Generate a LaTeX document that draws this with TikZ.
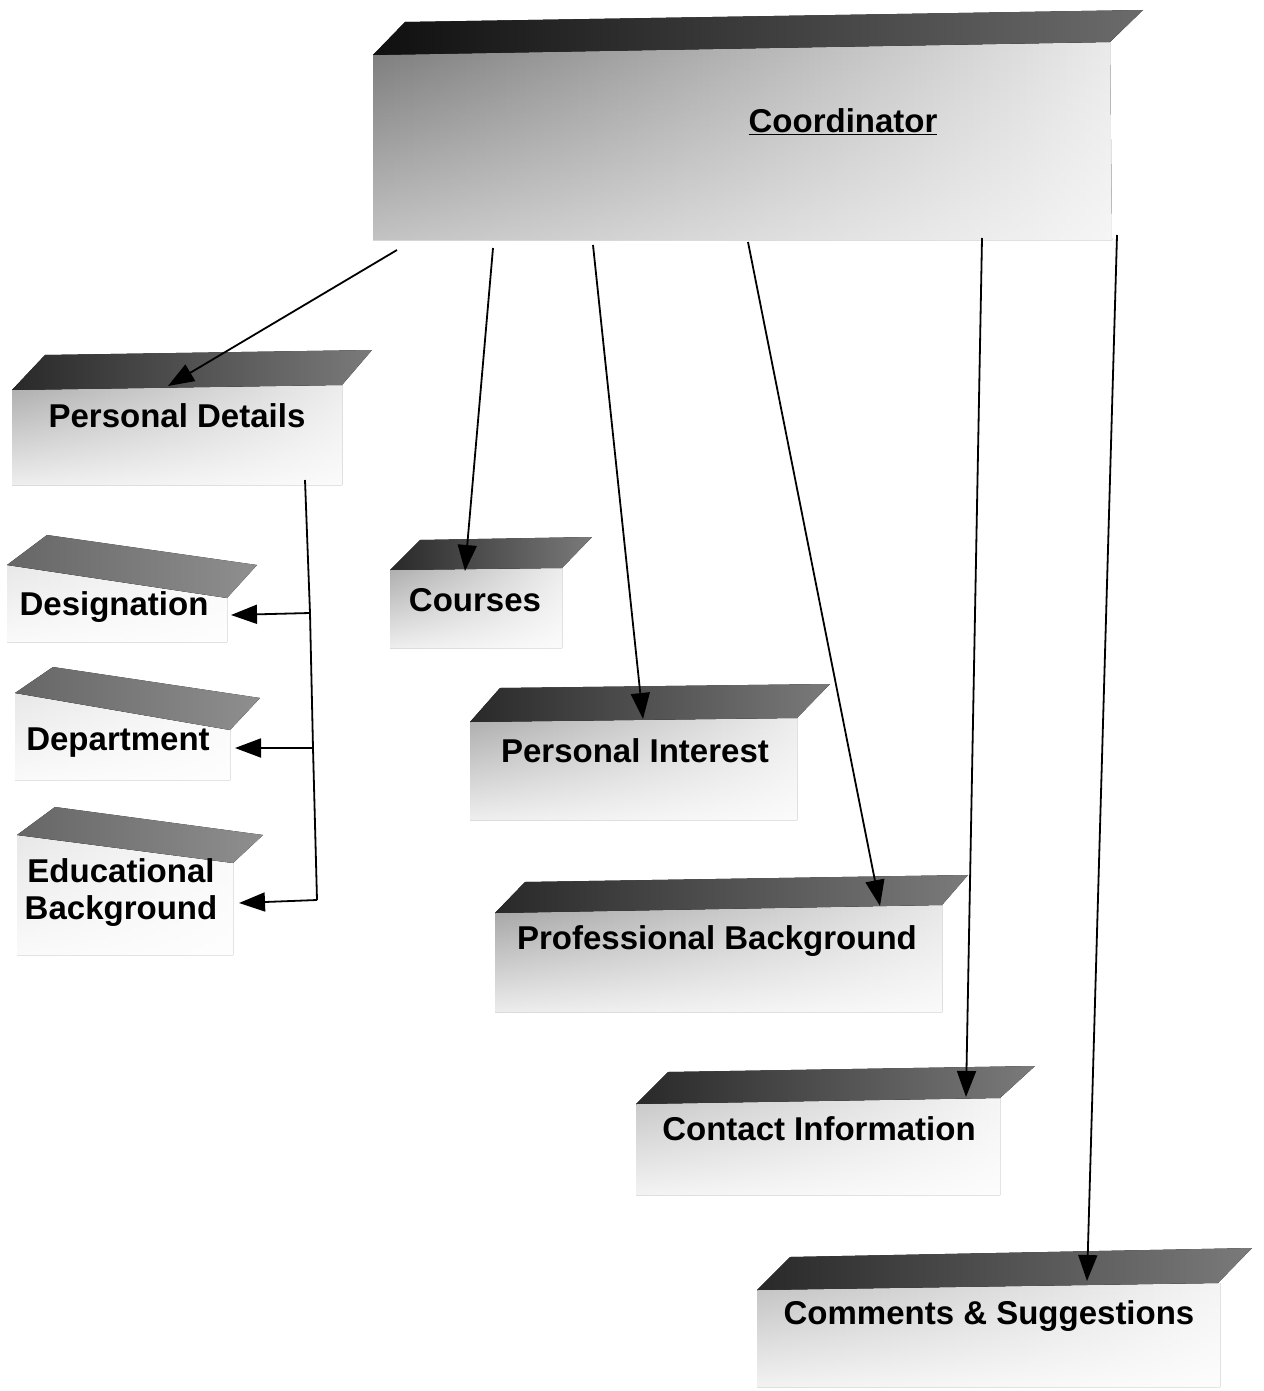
\documentclass[tikz,border=0pt]{standalone}
\usepackage{fontspec}
\setmainfont{Liberation Sans}
\usetikzlibrary{arrows.meta,fadings}

\begin{document}
\begin{tikzpicture}[x=1pt,y=-1pt,
  lbl/.style={font=\fontsize{33}{37}\selectfont\bfseries, inner sep=0pt, align=center},
  lid/.style={left color=black!84, right color=black!52},
  lidlight/.style={left color=black!60, right color=black!44},
  face/.style={left color=black!32, right color=black!7},
  facelight/.style={left color=black!9, right color=black!2},
  fadeout/.style={white, path fading=north, fill opacity=0.8},
  link/.style={draw=black, line width=1.8pt, -{Triangle[length=26pt,width=19pt]}},
  trunk/.style={draw=black, line width=1.8pt},
]
\useasboundingbox[fill=white] (0,0) rectangle (1263,1391);

% ---------- Coordinator slab ----------
\fill[left color=black!52, right color=black!8] (373,55) -- (1110,42) -- (1112,240) -- (373,240) -- cycle;
\fill[fadeout, fill opacity=0.55] (373,55) -- (1110,42) -- (1112,240) -- (373,240) -- cycle;
\fill[left color=black!94, right color=black!58] (373,55) -- (405,22) -- (1143,10) -- (1110,42) -- cycle;
\node[lbl] (coord) at (843,122) {\underline{Coordinator}};

% ---------- Personal Details slab ----------
\fill[face] (12,390) -- (342,385) -- (342,485) -- (12,485) -- cycle;
\fill[fadeout] (12,390) -- (342,385) -- (342,485) -- (12,485) -- cycle;
\fill[lid] (12,390) -- (45,355) -- (372,350) -- (342,385) -- cycle;
\node[lbl] (pd) at (177,416) {Personal Details};

% ---------- small slabs on the left ----------
\fill[facelight] (7,565) -- (227,598) -- (227,642) -- (7,642) -- cycle;
\fill[fadeout] (7,565) -- (227,598) -- (227,642) -- (7,642) -- cycle;
\fill[lidlight] (7,565) -- (47,535) -- (257,565) -- (227,598) -- cycle;
\node[lbl] (des) at (114,607) {Designation};

\fill[facelight] (15,693) -- (230,730) -- (230,780) -- (15,780) -- cycle;
\fill[fadeout] (15,693) -- (230,730) -- (230,780) -- (15,780) -- cycle;
\fill[lidlight] (15,693) -- (53,667) -- (260,698) -- (230,730) -- cycle;
\node[lbl] (dep) at (118,743) {Department};

\fill[facelight] (17,835) -- (233,863) -- (233,955) -- (17,955) -- cycle;
\fill[fadeout] (17,835) -- (233,863) -- (233,955) -- (17,955) -- cycle;
\fill[lidlight] (17,835) -- (55,807) -- (263,835) -- (233,863) -- cycle;
\node[lbl] (edu) at (121,893) {Educational\\Background};

% ---------- Courses slab ----------
\fill[face] (390,570) -- (562,568) -- (562,648) -- (390,648) -- cycle;
\fill[fadeout] (390,570) -- (562,568) -- (562,648) -- (390,648) -- cycle;
\fill[lid] (390,570) -- (420,540) -- (592,537) -- (562,568) -- cycle;
\node[lbl] (crs) at (475,600) {Courses};

% ---------- Personal Interest slab ----------
\fill[face] (470,722) -- (797,718) -- (797,820) -- (470,820) -- cycle;
\fill[fadeout] (470,722) -- (797,718) -- (797,820) -- (470,820) -- cycle;
\fill[lid] (470,722) -- (500,688) -- (830,684) -- (797,718) -- cycle;
\node[lbl] (pi) at (635,751) {Personal Interest};

% ---------- Professional Background slab ----------
\fill[left color=black!36, right color=black!9] (495,913) -- (942,905) -- (942,1012) -- (495,1012) -- cycle;
\fill[fadeout] (495,913) -- (942,905) -- (942,1012) -- (495,1012) -- cycle;
\fill[lid] (495,913) -- (525,882) -- (968,875) -- (942,905) -- cycle;
\node[lbl] (pb) at (717,941) {Professional Background};

% ---------- Contact Information slab ----------
\fill[left color=black!22, right color=black!4] (636,1104) -- (1000,1098) -- (1000,1195) -- (636,1195) -- cycle;
\fill[fadeout] (636,1104) -- (1000,1098) -- (1000,1195) -- (636,1195) -- cycle;
\fill[lid] (636,1104) -- (668,1072) -- (1035,1066) -- (1000,1098) -- cycle;
\node[lbl] (ci) at (819,1129) {Contact Information};

% ---------- Comments & Suggestions slab ----------
\fill[left color=black!24, right color=black!4] (757,1290) -- (1220,1283) -- (1220,1387) -- (757,1387) -- cycle;
\fill[fadeout] (757,1290) -- (1220,1283) -- (1220,1387) -- (757,1387) -- cycle;
\fill[lid] (757,1290) -- (790,1257) -- (1252,1248) -- (1218,1283) -- cycle;
\node[lbl] (cs) at (989,1316) {Comments \& Suggestions};

% ---------- connector end points ----------
\coordinate (s1) at (397,250);  \coordinate (e1) at (168,386);
\coordinate (s2) at (493,248);  \coordinate (e2) at (465,571);
\coordinate (s3) at (593,245);  \coordinate (e3) at (643,719);
\coordinate (s4) at (748,242);  \coordinate (e4) at (880,906);
\coordinate (s5) at (982,238);  \coordinate (e5) at (966,1097);
\coordinate (s6) at (1117,235); \coordinate (e6) at (1087,1281);

\coordinate (t0) at (305,480);
\coordinate (t1) at (310,613);  \coordinate (d1) at (231,615);
\coordinate (t2) at (313,748);  \coordinate (d2) at (235,748);
\coordinate (t3) at (317,900);  \coordinate (d3) at (239,903);

% ---------- connectors ----------
\draw[link] (s1) -- (e1);
\draw[link] (s2) -- (e2);
\draw[link] (s3) -- (e3);
\draw[link] (s4) -- (e4);
\draw[link] (s5) -- (e5);
\draw[link] (s6) -- (e6);

\draw[trunk] (t0) -- (t1) -- (t2) -- (t3);
\draw[link] (t1) -- (d1);
\draw[link] (t2) -- (d2);
\draw[link] (t3) -- (d3);
\end{tikzpicture}
\end{document}
